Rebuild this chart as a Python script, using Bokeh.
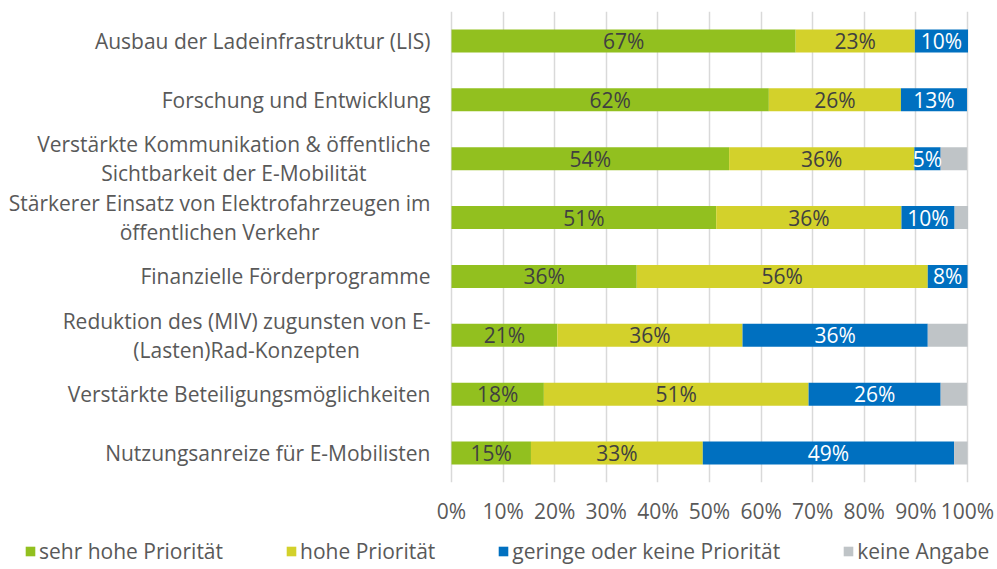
import math
from bokeh.plotting import figure
from bokeh.layouts import column
from bokeh.models import (FactorRange, Range1d, FixedTicker, Legend, LegendItem,
                          ColumnDataSource)
from bokeh.core.properties import value
from bokeh.embed import file_html
from bokeh.resources import INLINE

# ---------------- data ----------------
categories = [
    "Ausbau der Ladeinfrastruktur (LIS)",
    "Forschung und Entwicklung",
    "Verstärkte Kommunikation & öffentliche\nSichtbarkeit der E-Mobilität",
    "Stärkerer Einsatz von Elektrofahrzeugen im\nöffentlichen Verkehr",
    "Finanzielle Förderprogramme",
    "Reduktion des (MIV) zugunsten von E-\n(Lasten)Rad-Konzepten",
    "Verstärkte Beteiligungsmöglichkeiten",
    "Nutzungsanreize für E-Mobilisten",
]
sehr_hoch = [66.7, 61.5, 53.8, 51.3, 35.9, 20.5, 17.9, 15.4]
hoch = [23.1, 25.6, 35.9, 35.9, 56.4, 35.9, 51.3, 33.3]
gering = [10.3, 12.8, 5.1, 10.3, 7.7, 35.9, 25.6, 48.7]
keine = [0.0, 0.0, 5.1, 2.6, 0.0, 7.7, 5.1, 2.6]
series_names = ["sehr hohe Priorität", "hohe Priorität",
                "geringe oder keine Priorität", "keine Angabe"]
tick_values = [0, 10, 20, 30, 40, 50, 60, 70, 80, 90, 100]
tick_labels = ["0%", "10%", "20%", "30%", "40%", "50%", "60%", "70%", "80%", "90%", "100%"]

# ---------------- styles ----------------
colors = ["#92C01F", "#D3D12B", "#0070C0", "#BFC4C7"]
label_colors = ["#404040", "#404040", "#FFFFFF"]
FONT = "Open Sans"
FS = "21px"
TEXT_GREY = "#595959"

ids = [f"c{i}" for i in range(len(categories))]
keys = ["s0", "s1", "s2", "s3"]
series = [sehr_hoch, hoch, gering, keine]

src = ColumnDataSource(dict(cat=ids, s0=sehr_hoch, s1=hoch, s2=gering, s3=keine))

FW, FH = 997, 471
TOP, BOTTOM = 11, 50
x0_px, x100_px = 451.0, 967.0
ppu = (x100_px - x0_px) / 100.0
xs = -x0_px / ppu
xe = xs + FW / ppu

p = figure(frame_width=FW, frame_height=FH, output_backend="svg", toolbar_location=None,
           x_range=Range1d(xs, xe),
           y_range=FactorRange(factors=list(reversed(ids)), range_padding=0),
           min_border_left=0, min_border_right=0, min_border_top=TOP, min_border_bottom=BOTTOM)
p.outline_line_color = None
p.background_fill_color = "white"

renderers = p.hbar_stack(keys, y="cat", height=0.39, color=colors, line_color=None, source=src)

# segment labels
lx, ly, lt, lc = [], [], [], []
for i, cid in enumerate(ids):
    left = 0.0
    for s in range(4):
        v = series[s][i]
        if s < 3 and v > 0:
            lx.append(left + v / 2.0)
            ly.append(cid)
            lt.append(f"{int(math.floor(v + 0.5))}%")
            lc.append(label_colors[s])
        left += v
p.text(x="x", y="y", text="t", text_color="c",
       source=ColumnDataSource(dict(x=lx, y=ly, t=lt, c=lc)),
       text_font=value(FONT), text_font_size=FS,
       text_align="center", text_baseline="middle")

# category labels
p.text(x="x", y="y", text="t",
       source=ColumnDataSource(dict(x=[tick_values[0]] * len(ids), y=ids, t=categories)),
       text_font=value(FONT), text_font_size=FS, text_color=TEXT_GREY,
       anchor="center_right", text_align="center", text_baseline="middle",
       text_line_height=1.02, x_offset=-21)

# axes / grid
p.yaxis.visible = False
p.ygrid.grid_line_color = None
ax = p.xaxis[0]
ax.ticker = FixedTicker(ticks=tick_values)
ax.major_label_overrides = {v: l for v, l in zip(tick_values, tick_labels)}
ax.axis_line_color = None
ax.major_tick_line_color = None
ax.minor_tick_line_color = None
ax.major_tick_out = 0
ax.major_tick_in = 0
ax.major_label_standoff = 14
ax.major_label_text_font = FONT
ax.major_label_text_font_size = FS
ax.major_label_text_color = TEXT_GREY
p.xgrid.ticker = FixedTicker(ticks=tick_values)
p.xgrid.grid_line_color = "#D9D9D9"
p.xgrid.grid_line_width = 1.5

# ---------------- legend strip ----------------
p2 = figure(frame_width=FW, frame_height=37, output_backend="svg", toolbar_location=None,
            x_range=Range1d(0, 1), y_range=Range1d(0, 1),
            min_border_left=0, min_border_right=0, min_border_top=0, min_border_bottom=0)
p2.outline_line_color = None
p2.axis.visible = False
p2.grid.visible = False
# legend swatches: one off-screen bar per series, so the legend has a glyph to draw
leg_renderers = [p2.hbar(y=[-5.0], left=[0.0], right=[0.5], height=0.5, color=c, line_color=None)
                 for c in colors]

legend = Legend(items=[LegendItem(label=n, renderers=[r]) for n, r in zip(series_names, leg_renderers)],
                orientation="horizontal", location="left")
legend.glyph_width = 12
legend.glyph_height = 12
legend.label_standoff = 3
legend.spacing = 62
legend.padding = 0
legend.margin = 24
legend.border_line_color = None
legend.background_fill_alpha = 0
legend.label_text_font = FONT
legend.label_text_font_size = FS
legend.label_text_color = TEXT_GREY
p2.add_layout(legend, "center")

layout = column(p, p2, spacing=0)
open("out.html", "w").write(file_html(layout, INLINE))
